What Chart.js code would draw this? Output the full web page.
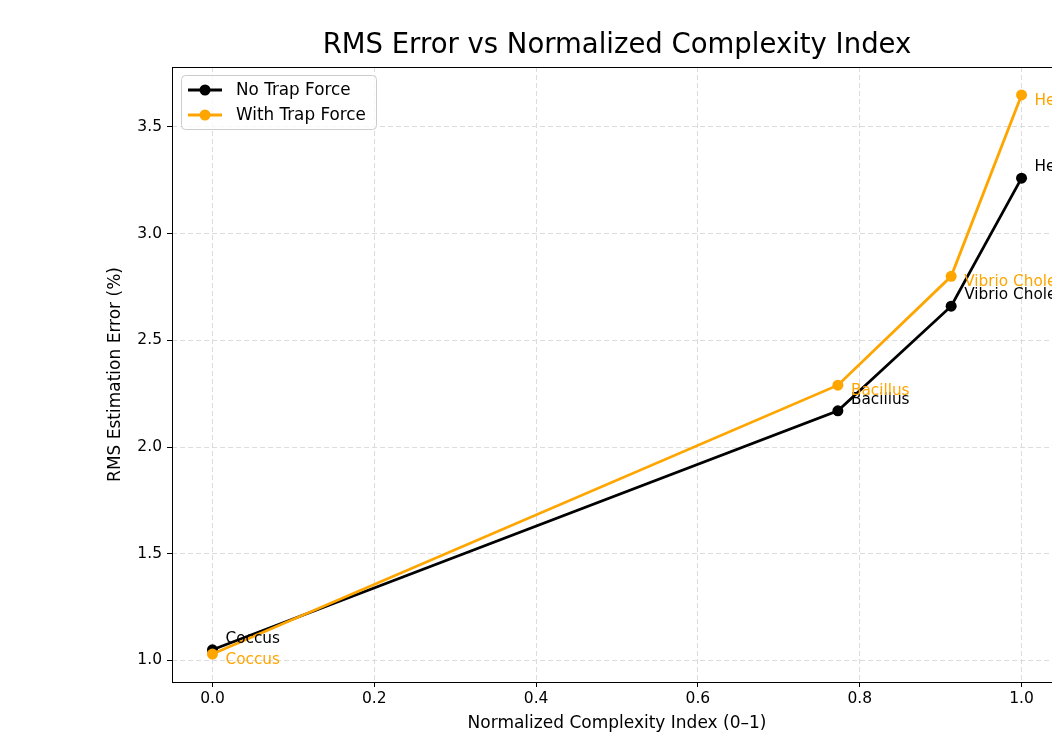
<!DOCTYPE html>
<html>
<head>
<meta charset="utf-8">
<script src="https://cdn.jsdelivr.net/npm/chart.js@4/dist/chart.umd.min.js"></script>
<style>
  html, body { margin: 0; padding: 0; background: #fff; overflow: hidden; }
  #wrap { position: absolute; left: 0; top: 0; width: 1200px; height: 736px; }
</style>
</head>
<body>
<div id="wrap"><canvas id="grafico" width="1200" height="736"></canvas></div>
<script>
// dados
const microbes = ['Coccus', 'Bacillus', 'Vibrio Cholerae', 'Helicobacter'];
const complexity = [0.0, 0.773, 0.913, 1.0];
const rmsNoTrap = [1.05, 2.17, 2.66, 3.26];
const rmsWithTrap = [1.03, 2.29, 2.80, 3.65];
const xTicks = [0.0, 0.2, 0.4, 0.6, 0.8, 1.0];
const yTicks = [1.0, 1.5, 2.0, 2.5, 3.0, 3.5];

const FONT = "'DejaVu Sans', sans-serif";
const BLACK = '#000000';
const ORANGE = '#ffa500';

const pontos = (ys) => complexity.map((x, i) => ({ x: x, y: ys[i] }));

// textos, moldura e legenda no estilo matplotlib
const extras = {
  id: 'extras',
  beforeDatasetsDraw(chart) {
    const { ctx, chartArea: a } = chart;
    ctx.save();
    ctx.strokeStyle = '#000';
    ctx.lineWidth = 1;
    ctx.strokeRect(a.left + 0.5, a.top + 0.5, a.right - a.left, a.bottom - a.top);
    ctx.restore();
  },
  afterDatasetsDraw(chart) {
    const { ctx, chartArea: a } = chart;
    ctx.save();

    // anotações dos pontos
    ctx.font = '15.3px ' + FONT;
    ctx.textAlign = 'left';
    ctx.textBaseline = 'alphabetic';
    chart.getDatasetMeta(0).data.forEach((p, i) => {
      ctx.fillStyle = BLACK;
      ctx.fillText(microbes[i], p.x + 13, p.y - 7);
    });
    chart.getDatasetMeta(1).data.forEach((p, i) => {
      ctx.fillStyle = ORANGE;
      ctx.fillText(microbes[i], p.x + 13, p.y + 10);
    });

    // legenda
    const lx = a.left + 9, ly = a.top + 8, lw = 195, lh = 54;
    ctx.beginPath();
    ctx.roundRect(lx + 0.5, ly + 0.5, lw, lh, 4);
    ctx.fillStyle = 'rgba(255,255,255,0.8)';
    ctx.fill();
    ctx.strokeStyle = '#cccccc';
    ctx.lineWidth = 1;
    ctx.stroke();
    ctx.font = '16.8px ' + FONT;
    chart.data.datasets.forEach((ds, i) => {
      const y = ly + 15 + i * 25;
      ctx.strokeStyle = ds.borderColor;
      ctx.lineWidth = 2.8;
      ctx.beginPath();
      ctx.moveTo(lx + 7, y);
      ctx.lineTo(lx + 41, y);
      ctx.stroke();
      ctx.fillStyle = ds.borderColor;
      ctx.beginPath();
      ctx.arc(lx + 24, y, 5.5, 0, Math.PI * 2);
      ctx.fill();
      ctx.fillStyle = '#000';
      ctx.textBaseline = 'middle';
      ctx.fillText(ds.label, lx + 55, y + 1);
    });

    // título e eixos
    ctx.fillStyle = '#000';
    ctx.textAlign = 'center';
    ctx.textBaseline = 'middle';
    ctx.font = '27.5px ' + FONT;
    ctx.fillText('RMS Error vs Normalized Complexity Index', (a.left + a.right) / 2, 46);
    ctx.font = '17px ' + FONT;
    ctx.fillText('Normalized Complexity Index (0\u20131)', (a.left + a.right) / 2, 724);
    ctx.translate(116, (a.top + a.bottom) / 2);
    ctx.rotate(-Math.PI / 2);
    ctx.fillText('RMS Estimation Error (%)', 0, 0);
    ctx.restore();
  }
};

new Chart(document.getElementById('grafico').getContext('2d'), {
  type: 'line',
  data: {
    datasets: [
      {
        label: 'No Trap Force',
        data: pontos(rmsNoTrap),
        borderColor: BLACK,
        backgroundColor: BLACK,
        borderWidth: 2.8,
        pointRadius: 5.5,
        pointHoverRadius: 5.5,
        pointBorderWidth: 0,
        tension: 0,
        order: 1
      },
      {
        label: 'With Trap Force',
        data: pontos(rmsWithTrap),
        borderColor: ORANGE,
        backgroundColor: ORANGE,
        borderWidth: 2.8,
        pointRadius: 5.5,
        pointHoverRadius: 5.5,
        pointBorderWidth: 0,
        tension: 0,
        order: 0
      }
    ]
  },
  options: {
    responsive: false,
    animation: false,
    events: [],
    clip: false,
    layout: { padding: { left: 0, right: 138, top: 67, bottom: 0 } },
    plugins: {
      legend: { display: false },
      tooltip: { enabled: false }
    },
    scales: {
      x: {
        type: 'linear',
        min: -0.05,
        max: 1.05,
        afterFit: s => { s.height = 54; },
        afterBuildTicks: s => { s.ticks = xTicks.map(v => ({ value: v })); },
        border: { display: false, dash: [5, 3] },
        grid: { color: '#dcdcdc', lineWidth: 1, tickColor: '#000', tickLength: 5, tickWidth: 1 },
        ticks: {
          color: '#000',
          font: { family: FONT, size: 15.5 },
          padding: 3,
          maxRotation: 0,
          callback: v => v.toFixed(1)
        }
      },
      y: {
        type: 'linear',
        min: 0.899,
        max: 3.781,
        afterFit: s => { s.width = 172; },
        afterBuildTicks: s => { s.ticks = yTicks.map(v => ({ value: v })); },
        border: { display: false, dash: [5, 3] },
        grid: { color: '#dcdcdc', lineWidth: 1, tickColor: '#000', tickLength: 5, tickWidth: 1 },
        ticks: {
          color: '#000',
          font: { family: FONT, size: 15.5 },
          padding: 5,
          callback: v => v.toFixed(1)
        }
      }
    }
  },
  plugins: [extras]
});
</script>
</body>
</html>
